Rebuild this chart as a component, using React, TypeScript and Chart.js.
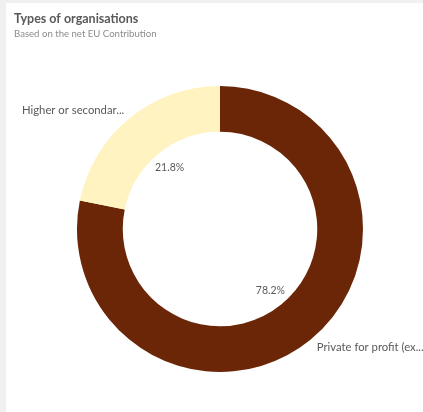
import React, { useEffect, useRef } from "react";
import { Chart, registerables } from "chart.js";

Chart.register(...registerables);

const categories = ["Private for profit (excluding Higher or Secondary Education Establishments)", "Higher or secondary education establishments"];
const shortLabels = ["Private for profit (ex...", "Higher or secondar..."];
const values = [78.2, 21.8];
const colors = ["#6a2607", "#fff3c1"];
const title = "Types of organisations";
const subtitle = "Based on the net EU Contribution";

const FONT = "Lato, 'Open Sans', sans-serif";

const overlay = {
  id: "overlay",
  afterDraw(chart: any) {
    const ctx = chart.ctx;
    ctx.save();
    // title
    ctx.fillStyle = "#595959";
    ctx.font = `bold 12.5px ${FONT}`;
    ctx.textAlign = "left";
    ctx.textBaseline = "middle";
    ctx.fillText(title, 14, 19);
    ctx.fillStyle = "#8c8c8c";
    ctx.font = `9.6px ${FONT}`;
    ctx.fillText(subtitle, 14, 34);

    const meta = chart.getDatasetMeta(0);
    const total = values.reduce((a, b) => a + b, 0);
    meta.data.forEach((arc: any, i: number) => {
      const { x, y, startAngle, endAngle, innerRadius, outerRadius } = arc.getProps(
        ["x", "y", "startAngle", "endAngle", "innerRadius", "outerRadius"],
        true
      );
      const mid = (startAngle + endAngle) / 2;
      const r = innerRadius * 0.82;
      ctx.fillStyle = "#595959";
      ctx.font = `10.5px ${FONT}`;
      ctx.textAlign = "center";
      ctx.textBaseline = "middle";
      ctx.fillText(((values[i] / total) * 100).toFixed(1) + "%", x + Math.cos(mid) * r, y + Math.sin(mid) * r);

      // outside label
      ctx.font = `11.3px ${FONT}`;
      ctx.fillStyle = "#595959";
      const ox = x + Math.cos(mid) * (outerRadius + 10);
      const oy = y + Math.sin(mid) * (outerRadius + 10);
      const left = Math.cos(mid) < 0;
      ctx.textAlign = left ? "right" : "left";
      ctx.fillText(shortLabels[i], left ? ox + 1 : ox, oy);
    });
    ctx.restore();
  },
};

export default function App() {
  const ref = useRef<HTMLCanvasElement | null>(null);
  useEffect(() => {
    const chart = new Chart(ref.current!, {
      type: "doughnut",
      data: {
        labels: categories,
        datasets: [
          {
            data: values,
            backgroundColor: colors,
            borderWidth: 0,
          },
        ],
      },
      options: {
        animation: false,
        responsive: false,
        cutout: "68%",
        layout: { padding: { left: 77, right: 60, top: 86, bottom: 40 } },
        plugins: { legend: { display: false }, tooltip: { enabled: false }, title: { display: false } },
      },
      plugins: [overlay],
    });
    return () => chart.destroy();
  }, []);
  return (
    <div style={{ position: "fixed", left: 0, top: 0, width: 423, height: 412, background: "#fff" }}>
      <div style={{ position: "absolute", left: 0, top: 0, width: 6, height: 412, background: "#f0f0f0" }} />
      <div style={{ position: "absolute", left: 0, top: 0, width: 423, height: 3, background: "#f0f0f0" }} />
      <canvas ref={ref} width={423} height={412} style={{ position: "absolute", left: 0, top: 0 }} />
    </div>
  );
}
